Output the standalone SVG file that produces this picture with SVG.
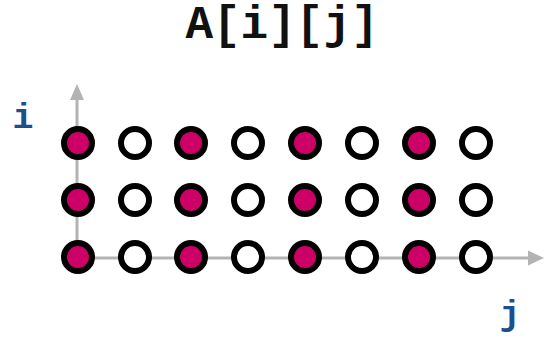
<svg xmlns="http://www.w3.org/2000/svg" width="546" height="338" viewBox="0 0 546 338">
<style>
.ax{stroke:#b3b3b3;stroke-width:3;fill:none}
.on{fill:#cc0066;stroke:#000;stroke-width:6}
.off{fill:#fff;stroke:#000;stroke-width:6}
.lbl{font-family:"Liberation Mono","Courier New",monospace;font-weight:bold;fill:#1f4e8c;font-size:35px}
.title{font-family:"Liberation Mono","Courier New",monospace;font-weight:bold;fill:#111;font-size:46px}
</style>
<rect width="546" height="338" fill="#fff"/>
<text class="title" x="282" y="38" text-anchor="middle">A[i][j]</text>
<g id="connectors">
<line class="ax" x1="77" y1="258" x2="77" y2="98"/>
<polygon points="77,84 70,100 84,100" fill="#b3b3b3"/>
<line class="ax" x1="77" y1="258" x2="530" y2="258"/>
<polygon points="544,258 528,250.5 528,265.5" fill="#b3b3b3"/>
</g>
<g id="label-i"><text class="lbl" x="23" y="128" text-anchor="middle">i</text></g>
<g id="label-j"><text class="lbl" x="510" y="325" text-anchor="middle">j</text></g>
<g id="row2">
<circle class="on" cx="78" cy="143" r="14"/><circle class="off" cx="135" cy="143" r="14"/>
<circle class="on" cx="191" cy="143" r="14"/><circle class="off" cx="248" cy="143" r="14"/>
<circle class="on" cx="305" cy="143" r="14"/><circle class="off" cx="362" cy="143" r="14"/>
<circle class="on" cx="419" cy="143" r="14"/><circle class="off" cx="476" cy="143" r="14"/>
</g>
<g id="row1">
<circle class="on" cx="78" cy="200" r="14"/><circle class="off" cx="135" cy="200" r="14"/>
<circle class="on" cx="191" cy="200" r="14"/><circle class="off" cx="248" cy="200" r="14"/>
<circle class="on" cx="305" cy="200" r="14"/><circle class="off" cx="362" cy="200" r="14"/>
<circle class="on" cx="419" cy="200" r="14"/><circle class="off" cx="476" cy="200" r="14"/>
</g>
<g id="row0">
<circle class="on" cx="78" cy="257" r="14"/><circle class="off" cx="135" cy="257" r="14"/>
<circle class="on" cx="191" cy="257" r="14"/><circle class="off" cx="248" cy="257" r="14"/>
<circle class="on" cx="305" cy="257" r="14"/><circle class="off" cx="362" cy="257" r="14"/>
<circle class="on" cx="419" cy="257" r="14"/><circle class="off" cx="476" cy="257" r="14"/>
</g>
</svg>
